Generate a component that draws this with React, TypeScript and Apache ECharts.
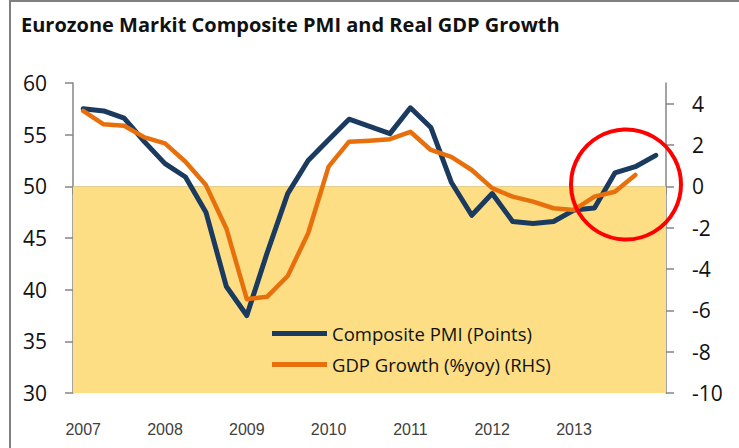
import React, { useEffect, useRef } from "react";
import * as echarts from "echarts";

const quarters = [
  "2007Q1", "2007Q2", "2007Q3", "2007Q4",
  "2008Q1", "2008Q2", "2008Q3", "2008Q4",
  "2009Q1", "2009Q2", "2009Q3", "2009Q4",
  "2010Q1", "2010Q2", "2010Q3", "2010Q4",
  "2011Q1", "2011Q2", "2011Q3", "2011Q4",
  "2012Q1", "2012Q2", "2012Q3", "2012Q4",
  "2013Q1", "2013Q2", "2013Q3", "2013Q4",
  "2014Q1",
];

const yearLabels = ["2007", "2008", "2009", "2010", "2011", "2012", "2013"];

const pmi = [
  57.5, 57.3, 56.6, 54.3, 52.2, 50.9, 47.5, 40.3, 37.5, 43.6, 49.3, 52.5, 54.5,
  56.5, 55.8, 55.1, 57.6, 55.7, 50.4, 47.2, 49.3, 46.6, 46.4, 46.6, 47.7, 47.9,
  51.3, 51.9, 53.0,
];

const gdp = [
  3.65, 3.0, 2.93, 2.37, 2.08, 1.19, 0.06, -2.04, -5.46, -5.34, -4.34, -2.27,
  0.95, 2.16, 2.21, 2.28, 2.64, 1.76, 1.43, 0.79, -0.09, -0.5, -0.74, -1.06,
  -1.14, -0.5, -0.26, 0.55, null,
];

const leftTicks = [30, 35, 40, 45, 50, 55, 60];
const rightTicks = [-10, -8, -6, -4, -2, 0, 2, 4];

const title = "Eurozone Markit Composite PMI and Real GDP Growth";
const pmiName = "Composite PMI (Points)";
const gdpName = "GDP Growth (%yoy) (RHS)";

export default function App() {
  const ref = useRef<HTMLDivElement>(null);
  useEffect(() => {
    if (!ref.current) return;
    const chart = echarts.init(ref.current, undefined, { renderer: "svg" });
    const axisGray = "#868686";
    chart.setOption({
      animation: false,
      backgroundColor: "#ffffff",
      title: {
        text: title,
        left: 16,
        top: 9,
        textStyle: {
          fontFamily: "Open Sans",
          fontWeight: "bold",
          fontSize: 20,
          color: "#111111",
        },
      },
      grid: { left: 73, right: 73, top: 83, bottom: 55 },
      legend: {
        orient: "vertical",
        left: 272,
        top: 324,
        padding: 0,
        itemGap: 12,
        itemWidth: 55,
        itemHeight: 5,
        icon: "rect",
        textStyle: {
          fontFamily: "Open Sans",
          fontSize: 18.5,
          color: "#111111",
        },
        data: [pmiName, gdpName],
      },
      xAxis: {
        type: "category",
        data: quarters,
        boundaryGap: true,
        axisLine: { show: true, lineStyle: { color: axisGray, width: 1.5 } },
        axisTick: { show: true, interval: 0, length: 8, lineStyle: { color: axisGray, width: 1.5 } },
        axisLabel: {
          interval: 0,
          margin: 28,
          fontFamily: "Liberation Sans",
          fontSize: 16,
          color: "#404040",
          formatter: (v: string) => {
            const y = v.slice(0, 4);
            return v.endsWith("Q1") && yearLabels.includes(y) ? y : "";
          },
        },
        splitLine: { show: false },
      },
      yAxis: [
        {
          type: "value",
          min: 30,
          max: 60,
          interval: 5,
          position: "left",
          axisLine: { show: true, lineStyle: { color: axisGray, width: 1.5 } },
          axisTick: { show: true, length: 8, lineStyle: { color: axisGray, width: 1.5 }, customValues: leftTicks },
          axisLabel: {
            margin: 26,
            fontFamily: "Open Sans",
            fontSize: 21,
            color: "#111111",
            customValues: leftTicks,
          },
          splitLine: { show: false },
        },
        {
          type: "value",
          min: -10,
          max: 5,
          position: "right",
          axisLine: { show: true, lineStyle: { color: axisGray, width: 1.5 } },
          axisTick: { show: true, length: 8, lineStyle: { color: axisGray, width: 1.5 }, customValues: rightTicks },
          axisLabel: {
            margin: 26,
            fontFamily: "Open Sans",
            fontSize: 21,
            color: "#111111",
            customValues: rightTicks,
          },
          splitLine: { show: false },
        },
      ],
      series: [
        {
          name: pmiName,
          type: "line",
          yAxisIndex: 0,
          data: pmi,
          showSymbol: false,
          symbol: "none",
          itemStyle: { color: "#1B3A5F" },
          lineStyle: { color: "#1B3A5F", width: 5, cap: "round", join: "round" },
          markArea: {
            silent: true,
            itemStyle: { color: "#FDDE85" },
            data: [[{ yAxis: 30 }, { yAxis: 50 }]],
          },
          z: 3,
        },
        {
          name: gdpName,
          type: "line",
          yAxisIndex: 1,
          data: gdp,
          showSymbol: false,
          symbol: "none",
          itemStyle: { color: "#E8700C" },
          lineStyle: { color: "#E8700C", width: 4.5, cap: "round", join: "round" },
          z: 4,
        },
      ],
      graphic: [
        {
          type: "rect",
          shape: { x: 10, y: 1, width: 800, height: 500 },
          style: { fill: "none", stroke: "#808080", lineWidth: 2 },
          silent: true,
          z: 10,
        },
        {
          type: "circle",
          shape: { cx: 626, cy: 184.5, r: 55 },
          style: { fill: "none", stroke: "#FF0000", lineWidth: 4 },
          silent: true,
          z: 10,
        },
      ],
    });
    return () => chart.dispose();
  }, []);
  return (
    <div
      ref={ref}
      style={{ position: "absolute", left: 0, top: 0, width: 739, height: 448 }}
    />
  );
}
